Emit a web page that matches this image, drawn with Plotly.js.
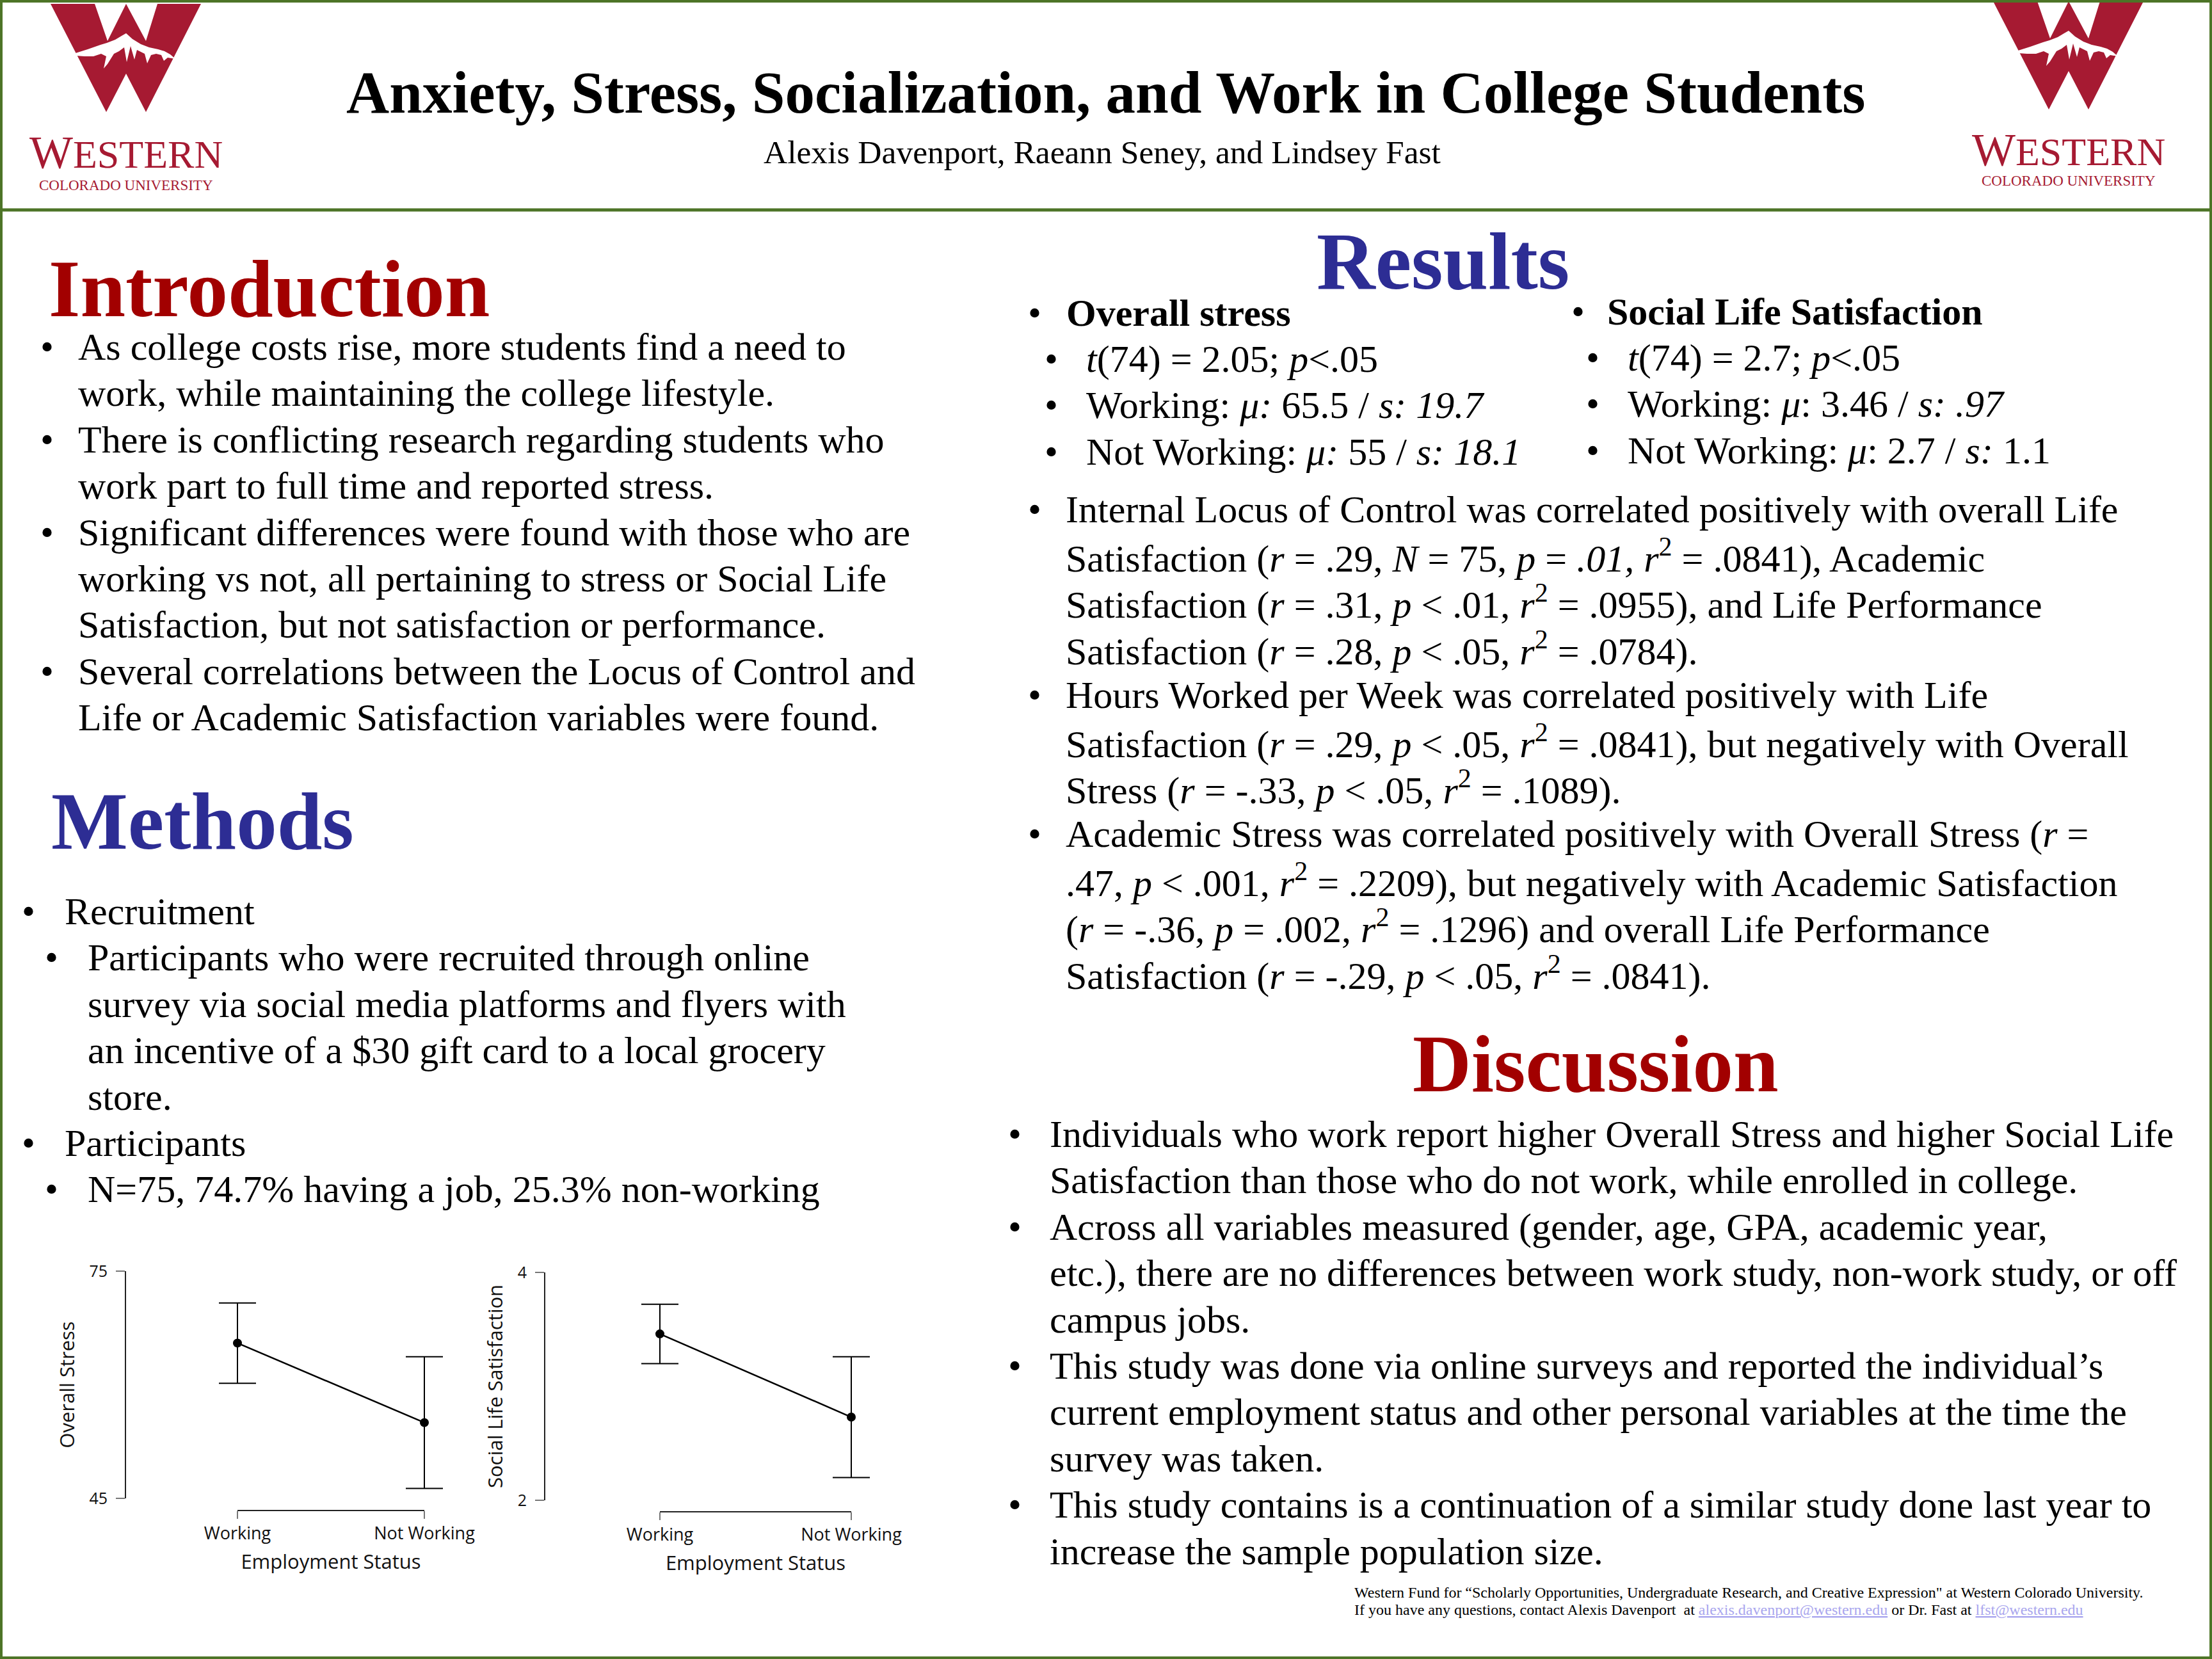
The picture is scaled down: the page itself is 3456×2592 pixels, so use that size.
<!DOCTYPE html>
<html>
<head>
<meta charset="utf-8">
<script src="https://cdn.plot.ly/plotly-3.0.1.min.js"></script>
<style>
  html, body { margin: 0; padding: 0; background: #ffffff; }
  #poster { width: 3456px; height: 2592px; }
</style>
</head>
<body>
<div id="poster"></div>
<script>
// ---- chart data ----
const groups = ['Working', 'Not Working'];
const stressMean = [65.5, 55.0];
const stressErr = [5.3, 8.7];
const stressTicks = [45, 75];
const socialMean = [3.46, 2.73];
const socialErr = [0.26, 0.53];
const socialTicks = [2, 4];

// ---- poster text ----
const posterTitle = 'Anxiety, Stress, Socialization, and Work in College Students';
const posterAuthors = 'Alexis Davenport, Raeann Seney, and Lindsey Fast';

const introLines = [
    [true, 'As college costs rise, more students find a need to'],
    [false, 'work, while maintaining the college lifestyle.'],
    [true, 'There is conflicting research regarding students who'],
    [false, 'work part to full time and reported stress.'],
    [true, 'Significant differences were found with those who are'],
    [false, 'working vs not, all pertaining to stress or Social Life'],
    [false, 'Satisfaction, but not satisfaction or performance.'],
    [true, 'Several correlations between the Locus of Control and'],
    [false, 'Life or Academic Satisfaction variables were found.']
];

const methodsLines = [
    [0, true, 'Recruitment'],
    [1, true, 'Participants who were recruited through online'],
    [1, false, 'survey via social media platforms and flyers with'],
    [1, false, 'an incentive of a $30 gift card to a local grocery'],
    [1, false, 'store.'],
    [0, true, 'Participants'],
    [1, true, 'N=75, 74.7% having a job, 25.3% non-working']
];

const stressStats = [
    '<i>t</i>(74) = 2.05; <i>p</i>&lt;.05',
    'Working: <i>μ: </i>65.5 / <i>s: 19.7</i>',
    'Not Working: <i>μ: </i>55 / <i>s: 18.1</i>'
];
const socialStats = [
    '<i>t</i>(74) = 2.7; <i>p</i>&lt;.05',
    'Working: <i>μ</i>: 3.46 / <i>s: .97</i>',
    'Not Working: <i>μ</i>: 2.7 / <i>s:</i> 1.1'
];

const resultsLines = [
    [true, 'Internal Locus of Control was correlated positively with overall Life'],
    [false, 'Satisfaction (<i>r</i> = .29, <i>N</i> = 75, <i>p</i> = <i>.01,</i> <i>r</i><sup>2</sup> = .0841), Academic'],
    [false, 'Satisfaction (<i>r</i> = .31, <i>p</i> &lt; .01, <i>r</i><sup>2</sup> = .0955), and Life Performance'],
    [false, 'Satisfaction (<i>r</i> = .28, <i>p</i> &lt; .05, <i>r</i><sup>2</sup> = .0784).'],
    [true, 'Hours Worked per Week was correlated positively with Life'],
    [false, 'Satisfaction (<i>r</i> = .29, <i>p</i> &lt; .05, <i>r</i><sup>2</sup> = .0841), but negatively with Overall'],
    [false, 'Stress (<i>r</i> = -.33, <i>p</i> &lt; .05, <i>r</i><sup>2</sup> = .1089).'],
    [true, 'Academic Stress was correlated positively with Overall Stress (<i>r</i> ='],
    [false, '.47, <i>p</i> &lt; .001, <i>r</i><sup>2</sup> = .2209), but negatively with Academic Satisfaction'],
    [false, '(<i>r</i> = -.36, <i>p</i> = .002, <i>r</i><sup>2</sup> = .1296) and overall Life Performance'],
    [false, 'Satisfaction (<i>r</i> = -.29, <i>p</i> &lt; .05, <i>r</i><sup>2</sup> = .0841).']
];

const discussionLines = [
    [true, 'Individuals who work report higher Overall Stress and higher Social Life'],
    [false, 'Satisfaction than those who do not work, while enrolled in college.'],
    [true, 'Across all variables measured (gender, age, GPA, academic year,'],
    [false, 'etc.), there are no differences between work study, non-work study, or off'],
    [false, 'campus jobs.'],
    [true, 'This study was done via online surveys and reported the individual’s'],
    [false, 'current employment status and other personal variables at the time the'],
    [false, 'survey was taken.'],
    [true, 'This study contains is a continuation of a similar study done last year to'],
    [false, 'increase the sample population size.']
];

const linkStyle = 'color:#a9a6ee;text-decoration:underline';
const footerLines = [
    'Western Fund for “Scholarly Opportunities, Undergraduate Research, and Creative Expression" at Western Colorado University.',
    'If you have any questions, contact Alexis Davenport  at <span style="' + linkStyle + '">alexis.davenport@western.edu</span> or Dr. Fast at <span style="' + linkStyle + '">lfst@western.edu</span>'
];

// ---- page geometry helpers (pixels -> paper) ----
const W = 3456, H = 2592;
const px = x => x / W;
const py = y => 1 - y / H;

const SERIF = 'Liberation Serif, Times New Roman, serif';
const SANS = 'Open Sans, DejaVu Sans, sans-serif';
const BODY = 60;
const STEP = 72.4;
const RED = '#a20000';
const BLUE = '#2d2d94';
const LOGO_RED = '#a61a32';
const GREEN = '#4d7427';
const AXIS_DARK = '#222';

const annotations = [];
function txt(x, y, text, font, xanchor) {
    annotations.push({
        xref: 'paper', yref: 'paper', x: px(x), y: py(y),
        xanchor: xanchor || 'left', yanchor: 'middle',
        text: text, showarrow: false,
        font: Object.assign({ family: SERIF, size: BODY, color: '#000' }, font || {})
    });
}
function bulletBlock(lines, y0, bulletX, textX) {
    lines.forEach((ln, i) => {
        const y = y0 + i * STEP;
        if (ln[0]) txt(bulletX, y, '•', {}, 'center');
        txt(textX, y, ln[1]);
    });
}

// header
txt(1728, 144, '<b>' + posterTitle + '</b>', { size: 93 }, 'center');
txt(1722, 237, posterAuthors, { size: 51.5 }, 'center');

// Introduction
txt(74, 451, '<b>Introduction</b>', { size: 127, color: RED });
bulletBlock(introLines, 542, 73, 120);

// Methods
txt(78, 1283, '<b>Methods</b>', { size: 127, color: BLUE });
methodsLines.forEach((ln, i) => {
    const y = 1424 + i * STEP;
    const bx = ln[0] === 0 ? 44 : 80;
    const tx = ln[0] === 0 ? 99 : 135;
    if (ln[1]) txt(bx, y, '•', {}, 'center');
    txt(tx, y, ln[2]);
});

// Results
txt(2254, 408, '<b>Results</b>', { size: 127, color: BLUE }, 'center');
txt(1616, 489, '•', {}, 'center');
txt(1664, 489, '<b>Overall stress</b>');
stressStats.forEach((s, i) => {
    txt(1642, 561 + i * STEP, '•', {}, 'center');
    txt(1695, 561 + i * STEP, s);
});
txt(2465, 487, '•', {}, 'center');
txt(2509, 487, '<b>Social Life Satisfaction</b>');
socialStats.forEach((s, i) => {
    txt(2488, 559 + i * STEP, '•', {}, 'center');
    txt(2541, 559 + i * STEP, s);
});
bulletBlock(resultsLines, 796, 1616, 1663);

// Discussion
txt(2493, 1662, '<b>Discussion</b>', { size: 127, color: RED }, 'center');
bulletBlock(discussionLines, 1772, 1585, 1638);

// footer
footerLines.forEach((s, i) => txt(2114, 2488 + i * 27, s, { size: 24 }));

// logo text
function logoText(cx, yW, yC) {
    txt(cx, yW, '<span style="font-size:72px">W</span>ESTERN', { size: 62, color: LOGO_RED }, 'center');
    txt(cx, yC, 'COLORADO UNIVERSITY', { size: 23, color: LOGO_RED }, 'center');
}
logoText(197, 238, 289);
logoText(3232, 234, 283);

// ---- shapes: frame, header rule, logo marks ----
const wMark = [[79, 6], [148, 6], [168, 64], [197, 6], [228, 64], [246, 6], [314, 6], [228, 175], [197, 115], [166, 175]];
const snow = [[118, 83], [137, 77], [157, 70], [167, 67], [180, 62], [190, 56], [197, 52], [207, 61], [220, 69], [233, 74],
    [247, 77], [257, 80], [266, 85], [274, 92], [262, 90], [256, 95], [252, 86], [244, 84], [236, 86], [230, 99],
    [226, 84], [214, 78], [210, 93], [204, 72], [198, 97], [194, 74], [186, 80], [178, 84], [168, 100], [162, 107],
    [166, 88], [158, 84], [146, 88], [132, 88], [118, 87]];
function pathOf(points, dx, dy) {
    return 'M' + points.map(p => px(p[0] + dx) + ',' + py(p[1] + dy)).join('L') + 'Z';
}
const shapes = [];
[[0, 0], [3035, -4]].forEach(off => {
    shapes.push({ type: 'path', xref: 'paper', yref: 'paper', path: pathOf(wMark, off[0], off[1]),
        fillcolor: LOGO_RED, line: { width: 0 } });
    shapes.push({ type: 'path', xref: 'paper', yref: 'paper', path: pathOf(snow, off[0], off[1]),
        fillcolor: '#ffffff', line: { width: 0 } });
});
shapes.push({ type: 'rect', xref: 'paper', yref: 'paper', x0: px(2), x1: px(W - 2), y0: py(H - 2), y1: py(2),
    line: { color: GREEN, width: 4 }, fillcolor: 'rgba(0,0,0,0)' });
shapes.push({ type: 'line', xref: 'paper', yref: 'paper', x0: 0, x1: 1, y0: py(328), y1: py(328),
    line: { color: GREEN, width: 5 } });

// ---- the two means plots ----
const CAT_PAD = 0.15;   // room either side of the categories so the error caps are not clipped

function meansTrace(y, err, xa, ya) {
    return {
        x: groups, y: y, xaxis: xa, yaxis: ya,
        type: 'scatter', mode: 'lines+markers',
        line: { color: '#000', width: 2.5 },
        marker: { size: 14, color: '#000' },
        error_y: { type: 'data', array: err, visible: true, color: '#000', thickness: 2, width: 29 },
        cliponaxis: false, hoverinfo: 'skip', showlegend: false
    };
}
function catAxis(xFirst, xLast, yLine) {
    const span = xLast - xFirst;
    return {
        domain: [px(xFirst - CAT_PAD * span), px(xLast + CAT_PAD * span)],
        type: 'category', categoryarray: groups, range: [-CAT_PAD, 1 + CAT_PAD],
        anchor: 'free', position: py(yLine),
        showline: false, showgrid: false, zeroline: false,
        ticks: 'outside', ticklen: 12, tickwidth: 2, tickcolor: '#777',
        tickfont: { family: SANS, size: 27, color: '#111' },
        title: { text: 'Employment Status', font: { family: SANS, size: 31, color: '#111' }, standoff: 16 }
    };
}
function valAxis(yTop, yBot, xLine, range, ticks, title) {
    return {
        domain: [py(yBot), py(yTop)], range: range, anchor: 'free', position: px(xLine),
        showline: true, linecolor: AXIS_DARK, linewidth: 2, showgrid: false, zeroline: false,
        tickvals: ticks, ticks: 'outside', ticklen: 14, tickwidth: 2, tickcolor: '#777',
        ticklabelstandoff: 8,
        tickfont: { family: SANS, size: 25, color: '#111' },
        title: { text: title, font: { family: SANS, size: 31, color: '#111' }, standoff: 13 }
    };
}
// x spine that runs only from the first to the last category, as in the original plots
function catSpine(xa, yLine) {
    return { type: 'line', xref: xa, yref: 'paper', x0: 0, x1: groups.length - 1,
        y0: py(yLine), y1: py(yLine), line: { color: AXIS_DARK, width: 2 } };
}
shapes.push(catSpine('x', 2360));
shapes.push(catSpine('x2', 2362));

const data = [
    meansTrace(stressMean, stressErr, 'x', 'y'),
    meansTrace(socialMean, socialErr, 'x2', 'y2')
];

const layout = {
    width: W, height: H,
    margin: { l: 0, r: 0, t: 0, b: 0 },
    paper_bgcolor: '#ffffff', plot_bgcolor: 'rgba(0,0,0,0)',
    showlegend: false, hovermode: false,
    xaxis: catAxis(371, 663, 2360),
    yaxis: valAxis(1986, 2341, 196, [45, 75], stressTicks, 'Overall Stress'),
    xaxis2: catAxis(1031, 1330, 2362),
    yaxis2: valAxis(1988, 2344, 851, [2, 4], socialTicks, 'Social Life Satisfaction'),
    annotations: annotations,
    shapes: shapes
};

Plotly.newPlot('poster', data, layout, { staticPlot: true, displayModeBar: false });
</script>
</body>
</html>
